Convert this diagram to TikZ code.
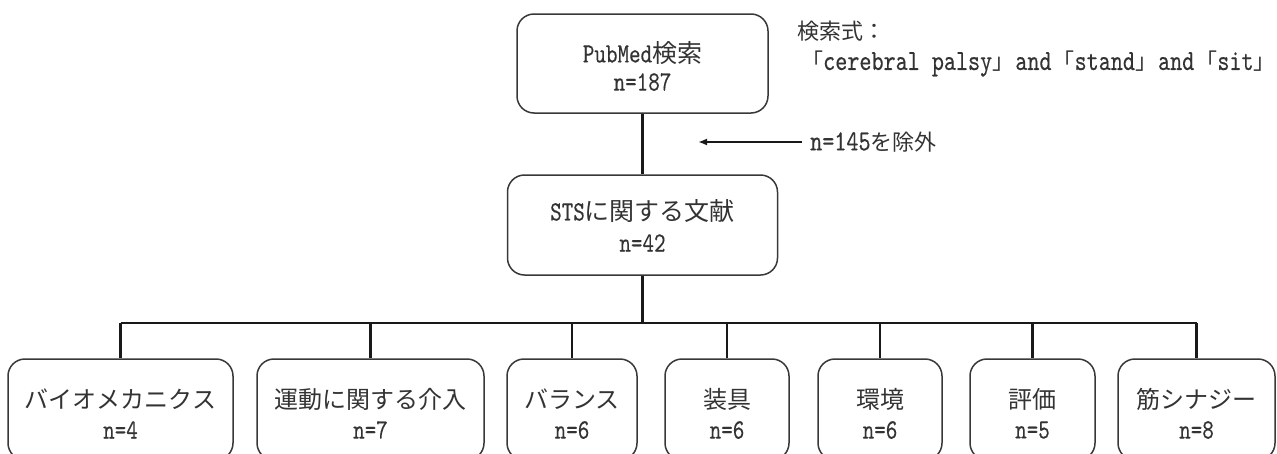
\documentclass[tikz,border=0pt]{standalone}
\usepackage{fontspec}
\usepackage{graphicx}
\newfontfamily\jpfont{Noto Sans CJK JP}
\newfontfamily\latfont{lmmono10-regular.otf}[FakeBold=0.3]
\usetikzlibrary{arrows.meta}
% Japanese / Latin runs with their own sizes; Latin is set tall and narrow
\newcommand\J[2][24]{{\jpfont\fontsize{#1}{#1}\selectfont #2}}
\newcommand\La[2][22]{\scalebox{1}[1.27]{\latfont\fontsize{#1}{#1}\selectfont #2}}
% corner brackets set half-width
\newcommand\lbr{\makebox[0.5em][r]{「}}
\newcommand\rbr{\makebox[0.5em][l]{」}}
\begin{document}
\begin{tikzpicture}[x=1pt,y=-1pt,
  box/.style={draw=black!78,line width=1.5pt,rounded corners=17pt,inner sep=0pt},
  txt/.style={inner sep=0pt,text=black!80},
  link/.style={draw=black!90,line width=2.1pt},
  cutarrow/.style={draw=black!90,line width=2pt,-{Latex[length=9pt,width=7pt]}}]
\useasboundingbox (0,0) rectangle (1277,453);

% search and screening
\node[box,minimum width=251pt,minimum height=99pt] (pub) at (642.5,63.5) {};
\node[txt] (pubT) at (642.5,53) {\La{PubMed}\J[25]{検索}};
\node[txt] (pubN) at (642.5,82) {\La{n=187}};

\node[box,minimum width=270pt,minimum height=100pt] (sts) at (642.5,225) {};
\node[txt] (stsT) at (642.5,211) {\La{STS}\J[25]{に関する文献}};
\node[txt] (stsN) at (642.5,243) {\La{n=42}};

\draw[link] (pub.south) -- (sts.north);

% query
\node[txt,anchor=west] (qhead) at (797,31) {\J[22]{検索式：}};
\node[txt,anchor=west] (query) at (812,64)
  {\J[22]{\lbr}\La[23]{cerebral palsy}\J[22]{\rbr}\La[23]{ and }\J[22]{\lbr}\La[23]{stand}\J[22]{\rbr}\La[23]{ and }\J[22]{\lbr}\La[23]{sit}\J[22]{\rbr}};

% excluded records
\node[txt,anchor=west] (excl) at (810,142) {\La[23]{n=145}\J[22]{を除外}};
\coordinate (cut) at (698,142);
\draw[cutarrow] ([xshift=-8pt]excl.west) -- (cut);

% categories
\foreach \n/\cx/\w/\title/\num in {
  b1/120.5/225/バイオメカニクス/4,
  b2/370.5/227/運動に関する介入/7,
  b3/572/130/バランス/6,
  b4/727/124/装具/6,
  b5/880/124/環境/6,
  b6/1032.5/125/評価/5,
  b7/1196.5/157/筋シナジー/8}{
  \node[box,minimum width=\w pt,minimum height=101pt] (\n) at (\cx,409.5) {};
  \node[txt] (\n T) at (\cx,399) {\J{\title}};
  \node[txt] (\n N) at (\cx,430) {\La{n=\num}};
}

% tree connectors
\coordinate (bus) at (642.5,323);
\draw[link] (sts.south) -- (bus);
\draw[link] (b1.north |- bus) -- (b7.north |- bus);
\foreach \n in {b1,b2,b3,b4,b5,b6,b7}
  \draw[link] (\n.north |- bus) -- (\n.north);
\end{tikzpicture}
\end{document}
